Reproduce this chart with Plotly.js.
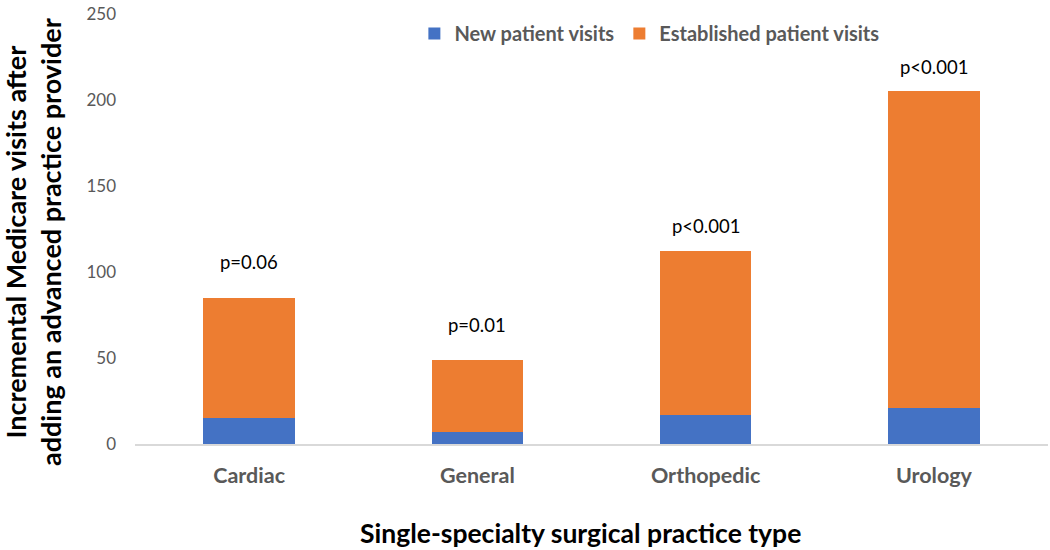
<!DOCTYPE html>
<html>
<head>
<meta charset="utf-8">
<script src="https://cdn.plot.ly/plotly-3.0.1.min.js"></script>
<style>html,body{margin:0;padding:0;background:#fff;}#chart{width:1050px;height:550px;}</style>
</head>
<body>
<div id="chart"></div>
<script>
const categories = ["Cardiac", "General", "Orthopedic", "Urology"];
const newVisits = [15, 7, 17, 21];
const establishedVisits = [70, 42, 95, 184];
const pValues = ["p=0.06", "p=0.01", "p<0.001", "p<0.001"];
const pLabelHeights = [106, 69, 127, 219];
const yTicks = [0, 50, 100, 150, 200, 250];

const FONT = "Lato, 'Open Sans', sans-serif";
const W = 1050, H = 550;
const M = {l: 135, r: 2, t: 14, b: 106};
const px2paperX = px => (px - M.l) / (W - M.l - M.r);
const px2paperY = py => (H - M.b - py) / (H - M.t - M.b);

const traces = [
  {
    type: "bar", name: "New patient visits", x: categories, y: newVisits,
    marker: {color: "#4472C4"}, width: 0.4, hoverinfo: "skip"
  },
  {
    type: "bar", name: "Established patient visits", x: categories, y: establishedVisits,
    marker: {color: "#ED7D31"}, width: 0.4, hoverinfo: "skip"
  }
];

const annotations = categories.map((c, i) => ({
  x: c, y: pLabelHeights[i], xref: "x", yref: "y", text: pValues[i],
  showarrow: false, font: {family: FONT, size: 18.5, color: "#000"}
}));
annotations.push({
  x: px2paperX(580), xref: "paper", xanchor: "center",
  y: px2paperY(533), yref: "paper", yanchor: "middle",
  text: "Single-specialty surgical practice type", showarrow: false,
  font: {family: FONT, size: 26.5, color: "#000", weight: "bold"}
});
annotations.push({
  x: px2paperX(33), xref: "paper", xanchor: "center",
  y: px2paperY(242), yref: "paper", yanchor: "middle",
  textangle: -90,
  text: "Incremental Medicare visits after<br>adding an advanced practice provider", showarrow: false,
  font: {family: FONT, size: 27, color: "#000", weight: "bold"}
});

const layout = {
  width: W, height: H,
  barmode: "stack",
  paper_bgcolor: "#fff", plot_bgcolor: "#fff",
  margin: M,
  showlegend: true,
  legend: {
    orientation: "h", x: 0.306, xanchor: "left", y: 1.0, yanchor: "top",
    font: {family: FONT, size: 20, color: "#595959", weight: "bold"},
    traceorder: "normal", itemwidth: 30, bgcolor: "rgba(0,0,0,0)"
  },
  xaxis: {
    showline: true, linecolor: "#D9D9D9", linewidth: 1.5,
    showgrid: false, ticks: "", zeroline: false,
    tickfont: {family: FONT, size: 21.5, color: "#595959", weight: "bold"},
    ticklabelstandoff: 12
  },
  yaxis: {
    range: [0, 250], tickvals: yTicks, showgrid: false, zeroline: false,
    showline: false, ticks: "",
    tickfont: {family: FONT, size: 17, color: "#595959"},
    ticklabelstandoff: 18
  },
  annotations: annotations
};

Plotly.newPlot("chart", traces, layout, {displayModeBar: false, staticPlot: true});
</script>
</body>
</html>
